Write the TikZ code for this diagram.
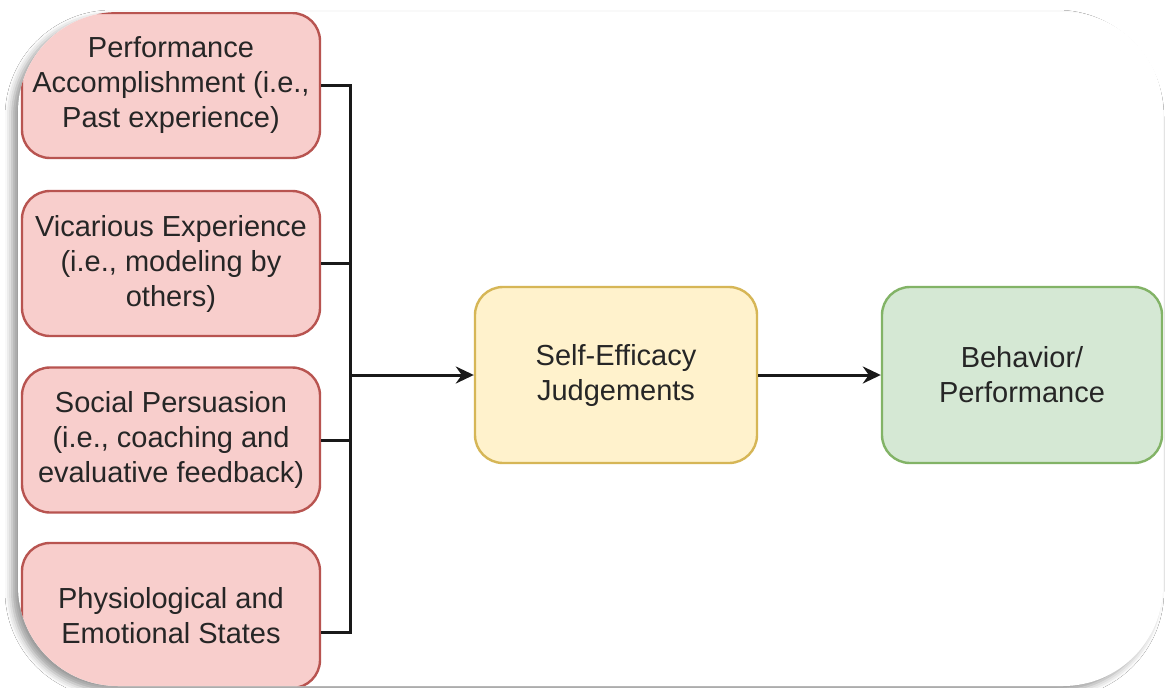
\documentclass[tikz,border=0pt]{standalone}
\usepackage{fontspec}
\setmainfont{Liberation Sans}
\usetikzlibrary{arrows.meta,shadows.blur}
\definecolor{txt}{HTML}{262626}
\definecolor{redfill}{HTML}{F8CECC}
\definecolor{redline}{HTML}{B85450}
\definecolor{yelfill}{HTML}{FFF2CC}
\definecolor{yelline}{HTML}{D6B656}
\definecolor{grnfill}{HTML}{D5E8D4}
\definecolor{grnline}{HTML}{82B366}
\tikzset{
  box/.style={rectangle, rounded corners=28pt, line width=2.4pt,
    minimum width=298pt, minimum height=145pt, inner sep=0pt,
    align=center, text=txt, font=\fontsize{29}{35}\selectfont},
  source/.style={box, fill=redfill, draw=redline},
  judge/.style={box, fill=yelfill, draw=yelline, minimum width=282pt, minimum height=176pt},
  outcome/.style={box, fill=grnfill, draw=grnline, minimum width=280pt, minimum height=176pt},
  conn/.style={line width=3pt, draw=black!90},
  arr/.style={conn, -{Stealth[length=18pt, width=17pt, inset=6pt]}},
}
\begin{document}
\begin{tikzpicture}[x=1pt, y=-1pt]
\useasboundingbox (0,0) rectangle (1168,688);
\fill[white] (0,0) rectangle (1168,688);
% rounded white panel with its soft shadow
\fill[white, blur shadow={shadow xshift=-6pt, shadow yshift=-5pt, shadow blur radius=7pt, shadow opacity=40}]
  [rounded corners=100pt] (18,12) rectangle (1163,686);
\begin{scope}
  \clip[rounded corners=100pt] (18,12) rectangle (1163,686);
  % sources of self-efficacy
  \node[source] (p1) at (171,85.5) {Performance\\Accomplishment (i.e.,\\Past experience)};
  \node[source] (p2) at (171,263.5) {Vicarious Experience\\(i.e., modeling by\\others)};
  \node[source] (p3) at (171,440) {Social Persuasion\\(i.e., coaching and\\evaluative feedback)};
  \node[source] (p4) at (171,615.5) {Physiological and\\Emotional States};
  % judgement and outcome
  \node[judge] (se) at (616,375) {Self-Efficacy\\Judgements};
  \node[outcome] (bp) at (1022,375) {Behavior/\\Performance};
  % bracket joining the four sources
  \coordinate (j) at (350,375);
  \draw[conn] (p1.east) -| (j);
  \draw[conn] (p2.east) -| (j);
  \draw[conn] (p3.east) -| (j);
  \draw[conn] ([yshift=-16.5pt]p4.east) -| (j);
  \draw[arr] (j) -- (se.west);
  \draw[arr] (se.east) -- (bp.west);
\end{scope}
\end{tikzpicture}
\end{document}
